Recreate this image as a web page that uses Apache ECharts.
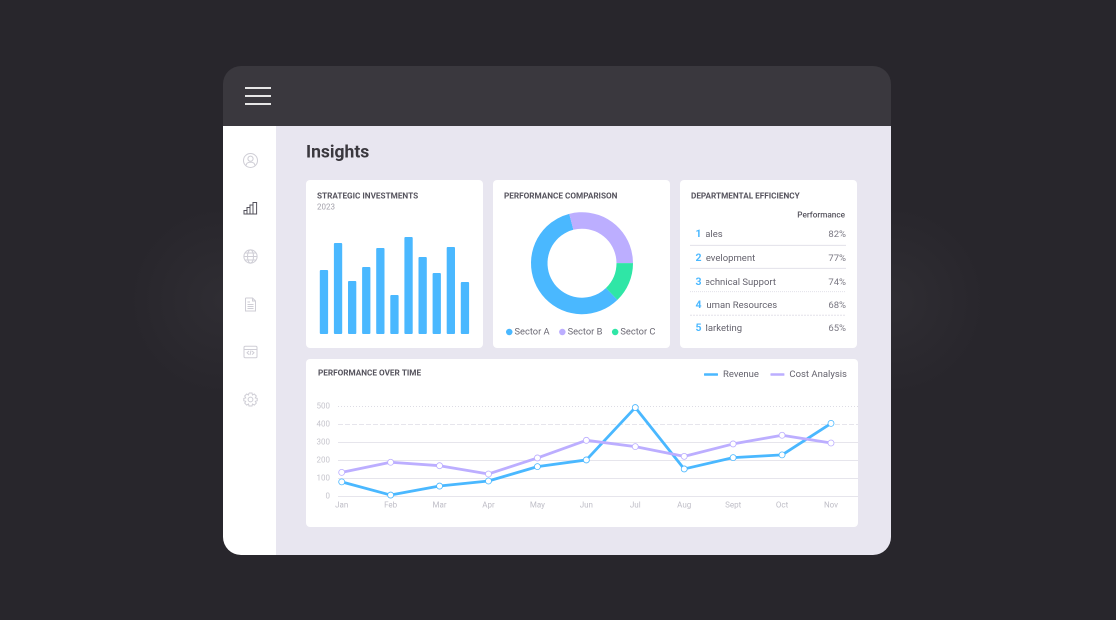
<!DOCTYPE html>
<html><head><meta charset="utf-8">
<script src="https://cdn.jsdelivr.net/npm/echarts@6/dist/echarts.min.js"></script>
<style>html,body{margin:0;padding:0;background:#28262c}#c{width:1116px;height:620px}</style>
</head><body><div id="c"></div>
<script>
const barCategories = ['1','2','3','4','5','6','7','8','9','10','11'];
const barValues = [64,91,53,67,86,39,97,77,61,87,52];
const sectorNames = ['Sector A','Sector B','Sector C'];
const sectorValues = [58.2,29,12.8];
const months = ['Jan','Feb','Mar','Apr','May','Jun','Jul','Aug','Sept','Oct','Nov'];
const revenue = [80,7,57,85,165,202,493,152,215,230,405];
const costAnalysis = [133,189,170,124,213,311,276,222,291,339,296];
const departments = ['Sales','Development','Technical Support','Human Resources','Marketing'];
const efficiency = ['82%','77%','74%','68%','65%'];
const yTicks = [0,100,200,300,400,500];

const BLUE='#4ab8ff', PURPLE='#bcaeff', GREEN='#2fe6a6';
const FF='Roboto, sans-serif';
const ICON='#cfced6', DARKICON='#55535d';

function txt(text,x,y,size,weight,fill,align){
  return {type:'text',z:5,silent:true,style:{text,x,y,font:`${weight} ${size}px ${FF}`,fill,textAlign:align||'left',textVerticalAlign:'middle'}};
}
function rect(x,y,w,h,r,fill,z){
  return {type:'rect',z:z===undefined?-5:z,silent:true,shape:{x,y,width:w,height:h,r},style:{fill}};
}
function poly(points,stroke,width){
  return {type:'polyline',z:1,silent:true,shape:{points},style:{fill:'none',stroke:stroke||ICON,lineWidth:width||1}};
}
function seg(x1,y1,x2,y2,stroke,w,dash){
  return {type:'line',z:1,silent:true,shape:{x1,y1,x2,y2},style:{stroke,lineWidth:w,lineDash:dash||null}};
}
function circ(cx,cy,r,stroke,w){
  return {type:'circle',z:1,silent:true,shape:{cx,cy,r},style:{fill:'none',stroke:stroke||ICON,lineWidth:w||1}};
}
function box(x,y,w,h,r,stroke,lw){
  return {type:'rect',z:1,silent:true,shape:{x,y,width:w,height:h,r:r||0},style:{fill:'none',stroke:stroke||ICON,lineWidth:lw||1}};
}
function glow(cx){
  return {type:'circle',z:-9,silent:true,shape:{cx,cy:300,r:100},style:{fill:{type:'radial',x:0.5,y:0.5,r:0.5,
    colorStops:[{offset:0,color:'rgba(255,255,255,0.035)'},{offset:1,color:'rgba(255,255,255,0)'}]}}};
}

const els=[];
els.push(glow(223),glow(891));
// app frame
els.push(rect(276,126,615,429,[0,0,18,0],'#e8e6f0',-7));
els.push(rect(223,66,668,60,[18,18,0,0],'#3a383e',-7));
els.push(rect(223,126,53,429,[0,0,0,18],'#ffffff',-7));
// hamburger
[88,96,104].forEach(y=>els.push(seg(245,y,271,y,'#ffffff',1.7)));
// cards
els.push(rect(306,180,177,168,4,'#fff'));
els.push(rect(493,180,177,168,4,'#fff'));
els.push(rect(680,180,177,168,4,'#fff'));
els.push(rect(306,359,552,168,4,'#fff'));
// headings
els.push(txt('Insights',306,153,17.5,'700','#3a383e'));
els.push(txt('STRATEGIC INVESTMENTS',317,196.2,8.2,'700','#55535d'));
els.push(txt('2023',317,207.5,8,'400','#a3a1ab'));
els.push(txt('PERFORMANCE COMPARISON',504,196.2,8.2,'700','#55535d'));
els.push(txt('DEPARTMENTAL EFFICIENCY',691,196.2,8.2,'700','#55535d'));
els.push(txt('PERFORMANCE OVER TIME',318,373.2,8.2,'700','#55535d'));
els.push(txt('Performance',845,215.2,8.2,'500','#55535d','right'));
// table
const rowY=[234.8,258.8,282.6,305.6,328.8];
const ruleY=[245.4,268.4,291.6,315.3];
departments.forEach((d,i)=>{
  els.push(txt(d,699.6,rowY[i],9.5,'400','#65636e'));
  els.push(txt(efficiency[i],846,rowY[i],9.5,'400','#7b7984','right'));
});
els.push({type:'rect',z:6,silent:true,shape:{x:690,y:226,width:16,height:110},style:{fill:'#fff'}});
departments.forEach((d,i)=>{
  const t=txt(String(i+1),698.5,rowY[i]-0.4,10.5,'700',BLUE,'center'); t.z=7; els.push(t);
});
ruleY.forEach((y,i)=>{
  const l=seg(690,y,846,y,'#e3e2ea',1,i===2?[1,1]:(i===3?[2,1]:null)); l.z=8; els.push(l);
});
// sidebar icons
els.push(circ(250.5,160.5,7),circ(250.5,158.7,2.6),
  poly([[245.8,165.6],[247,163.2],[249,162.2],[252,162.2],[254,163.2],[255.2,165.6]]));
// bars icon
els.push(box(244,210.5,3,3.5,0,DARKICON),box(247,207.5,3,6.5,0,DARKICON),box(250,205,3,9,0,DARKICON),box(253,202.5,3.6,11.5,0,DARKICON));
// globe
els.push(circ(250.5,256.5,6.6),seg(244,256.5,257,256.5,ICON,1),seg(245,253,256,253,ICON,1),seg(245,260,256,260,ICON,1),
  {type:'ellipse',z:1,silent:true,shape:{cx:250.5,cy:256.5,rx:3,ry:6.6},style:{fill:'none',stroke:ICON,lineWidth:1}});
// document
els.push(poly([[245.5,298],[252.5,298],[255.5,301],[255.5,311],[245.5,311],[245.5,298]]),poly([[252.5,298],[252.5,301],[255.5,301]]),
  seg(247.5,302,250,302,ICON,1),seg(247.5,304.5,253.5,304.5,ICON,1),seg(247.5,306.5,253.5,306.5,ICON,1),seg(247.5,308.5,253.5,308.5,ICON,1));
// code window
els.push(box(244,346.2,13,11.6,1.3),seg(244,349.5,257,349.5,ICON,1),
  poly([[249,351],[247,352.8],[249,354.6]]),poly([[252,351],[254,352.8],[252,354.6]]),seg(251,350.5,250,355,ICON,1));
// gear
els.push(circ(250.5,399.5,2.4),poly([[249,393],[252,393],[252.5,395],[254.3,394],[256.3,396],[255.3,397.9],[257.2,398.4],[257.2,400.8],[255.3,401.3],[256.3,403.1],[254.3,405.1],[252.5,404],[252,406],[249,406],[248.5,404],[246.7,405.1],[244.7,403.1],[245.7,401.3],[243.8,400.8],[243.8,398.4],[245.7,397.9],[244.7,396],[246.7,394],[248.5,395],[249,393]]));

const ySplit=(vals,type,color)=>({type:'value',gridIndex:1,min:0,max:500,interval:100,position:'left',
  axisLine:{show:false},axisTick:{show:false,customValues:vals},
  axisLabel:{show:false},
  splitLine:{show:true,lineStyle:{color,width:1,type}}});

const option={
  animation:false,
  backgroundColor:'#28262c',
  textStyle:{fontFamily:FF},
  graphic:{elements:els},
  legend:[
    {data:sectorNames,left:501,top:322.5,itemWidth:6.5,itemHeight:6.5,itemGap:9.5,icon:'circle',selectedMode:false,
     textStyle:{color:'#6a6873',fontSize:9.3,fontFamily:FF,padding:[0,0,0,-3]}},
    {data:[{name:'Revenue',itemStyle:{color:BLUE,borderWidth:0}},{name:'Cost Analysis',itemStyle:{color:PURPLE,borderWidth:0}}],
     left:699,top:364.5,itemWidth:14,itemHeight:2.5,itemGap:11.5,icon:'roundRect',selectedMode:false,
     textStyle:{color:'#65636e',fontSize:9.5,fontFamily:FF}}
  ],
  grid:[
    {left:316.9,width:155.1,top:234,height:100},
    {left:338,width:520,top:406.3,height:90},
    {left:341.7,width:489.3,top:406.3,height:90}
  ],
  xAxis:[
    {type:'category',gridIndex:0,data:barCategories,show:false},
    {type:'category',gridIndex:1,data:months,show:false},
    {type:'category',gridIndex:2,data:months,boundaryGap:false,
     axisLine:{show:false},axisTick:{show:false},
     axisLabel:{color:'#bfbec7',fontSize:8,fontFamily:FF,margin:5,interval:0}}
  ],
  yAxis:[
    {type:'value',gridIndex:0,min:0,max:100,show:false},
    ySplit(yTicks.slice(0,4),'solid','#e6e5ec'),
    ySplit([400],[5,2],'#e6e5ec'),
    ySplit([500],[1,2],'#dddce4'),
    {type:'value',gridIndex:2,min:0,max:500,show:false},
    {type:'value',gridIndex:1,min:0,max:500,interval:100,position:'left',
     axisLine:{show:false},axisTick:{show:false},splitLine:{show:false},
     axisLabel:{show:true,color:'#c6c5cd',fontSize:8,fontFamily:FF,margin:8,customValues:yTicks}}
  ],
  series:[
    {type:'bar',xAxisIndex:0,yAxisIndex:0,data:barValues,barWidth:8.3,silent:true,
     itemStyle:{color:BLUE,borderRadius:1}},
    {type:'pie',center:[582,263.2],radius:[34.5,51],startAngle:-46,silent:true,
     label:{show:false},labelLine:{show:false},
     data:sectorNames.map((name,i)=>({name,value:sectorValues[i],itemStyle:{color:[BLUE,PURPLE,GREEN][i]}}))},
    {name:'Revenue',type:'line',xAxisIndex:2,yAxisIndex:4,data:revenue,silent:true,z:3,
     symbol:'circle',symbolSize:6,showAllSymbol:true,
     lineStyle:{color:BLUE,width:2.8},itemStyle:{color:'#fff',borderColor:BLUE,borderWidth:0.8}},
    {name:'Cost Analysis',type:'line',xAxisIndex:2,yAxisIndex:4,data:costAnalysis,silent:true,z:4,
     symbol:'circle',symbolSize:6,showAllSymbol:true,
     lineStyle:{color:PURPLE,width:2.8},itemStyle:{color:'#fff',borderColor:PURPLE,borderWidth:0.8}}
  ]
};
const chart=echarts.init(document.getElementById('c'),null,{renderer:'canvas',width:1116,height:620,devicePixelRatio:2});
chart.setOption(option);
</script></body></html>
